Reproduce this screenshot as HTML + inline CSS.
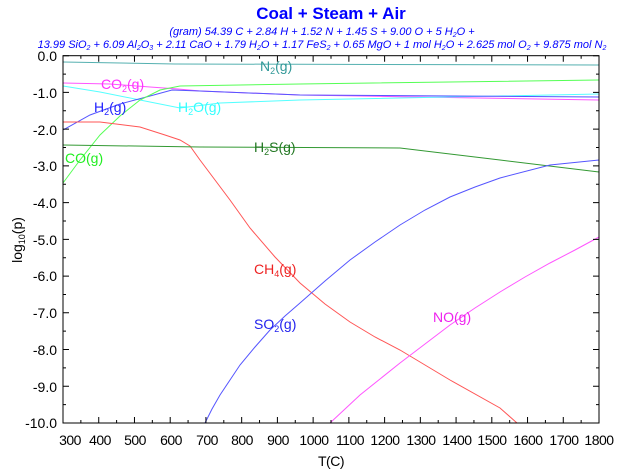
<!DOCTYPE html><html><head><meta charset="utf-8"><style>body{margin:0;background:#fff}svg{display:block;font-family:"Liberation Sans",sans-serif}</style></head><body>
<svg width="640" height="473" xmlns="http://www.w3.org/2000/svg">
<text x="331" y="19" font-size="17" font-weight="bold" fill="#0000ff" text-anchor="middle">Coal + Steam + Air</text>
<text x="322" y="35" font-size="11" font-style="italic" fill="#0000ff" text-anchor="middle">(gram) 54.39 C + 2.84 H + 1.52 N + 1.45 S + 9.00 O + 5 H<tspan font-size="7" dy="2">2</tspan><tspan dy="-2">O +</tspan></text>
<text x="322" y="48" font-size="11" font-style="italic" fill="#0000ff" text-anchor="middle">13.99 SiO<tspan font-size="7" dy="2">2</tspan><tspan dy="-2"> + 6.09 Al</tspan><tspan font-size="7" dy="2">2</tspan><tspan dy="-2">O</tspan><tspan font-size="7" dy="2">3</tspan><tspan dy="-2"> + 2.11 CaO + 1.79 H</tspan><tspan font-size="7" dy="2">2</tspan><tspan dy="-2">O + 1.17 FeS</tspan><tspan font-size="7" dy="2">2</tspan><tspan dy="-2"> + 0.65 MgO + 1 mol H</tspan><tspan font-size="7" dy="2">2</tspan><tspan dy="-2">O + 2.625 mol O</tspan><tspan font-size="7" dy="2">2</tspan><tspan dy="-2"> + 9.875 mol N</tspan><tspan font-size="7" dy="2">2</tspan></text>
<g fill="none" stroke-width="1">
<polyline stroke="#55b0b0" points="63,62 175,64 599,65"/>
<polyline stroke="#ff55ff" points="63,83 110,84 150,87 178,89 200,91 300,95 599,100"/>
<polyline stroke="#55ffff" points="63,86 100,92 140,100 180,108 220,103 300,100 599,94"/>
<polyline stroke="#5555ff" points="63,130 90,115 120,104 150,96 172,90 200,91 300,95 599,97"/>
<polyline stroke="#55ff55" points="63,183 80,160 100,135 120,116 140,100 160,90 180,86 300,84 599,80"/>
<polyline stroke="#ff5555" points="63,122 100,122 140,127 165,135 180,140 190,146 200,160 215,180 230,200 250,228 275,257 300,283 325,304 350,322 375,337 400,350 450,380 500,408 517,423"/>
<polyline stroke="#339933" points="63,145 200,147 400,148 500,160 599,172"/>
<polyline stroke="#5555ff" points="205,423 212,409 220,395 230,380 240,365 255,347 270,330 285,316 300,303 325,281 350,260 375,242 400,225 425,210 450,197 475,187 500,178 550,165 599,160"/>
<polyline stroke="#ff55ff" points="330,423 345,409 360,395 380,379 400,363 425,344 450,325 475,308 500,292 525,277 550,263 575,250 599,237"/>
</g>
<rect x="63" y="55.7" width="536" height="367.3" fill="none" stroke="#000" stroke-width="1"/>
<g stroke="#000" fill="none" stroke-width="1">
<path d="M63,55.7v6m17.867,-6v3m17.867,-3v6m17.867,-6v3m17.867,-3v6m17.867,-6v3m17.867,-3v6m17.867,-6v3m17.867,-3v6m17.867,-6v3m17.867,-3v6m17.867,-6v3m17.867,-3v6m17.867,-6v3m17.867,-3v6m17.867,-6v3m17.867,-3v6m17.867,-6v3m17.867,-3v6m17.867,-6v3m17.867,-3v6m17.867,-6v3m17.867,-3v6m17.867,-6v3m17.867,-3v6m17.867,-6v3m17.867,-3v6m17.867,-6v3m17.867,-3v6m17.867,-6v3m17.867,-3v6"/>
<path d="M63,423v-6m17.867,6v-3m17.867,3v-6m17.867,6v-3m17.867,3v-6m17.867,6v-3m17.867,3v-6m17.867,6v-3m17.867,3v-6m17.867,6v-3m17.867,3v-6m17.867,6v-3m17.867,3v-6m17.867,6v-3m17.867,3v-6m17.867,6v-3m17.867,3v-6m17.867,6v-3m17.867,3v-6m17.867,6v-3m17.867,3v-6m17.867,6v-3m17.867,3v-6m17.867,6v-3m17.867,3v-6m17.867,6v-3m17.867,3v-6m17.867,6v-3m17.867,3v-6m17.867,6v-3m17.867,3v-6"/>
<path d="M63,55.7h6m-6,18.365h3m-3,18.365h6m-6,18.365h3m-3,18.365h6m-6,18.365h3m-3,18.365h6m-6,18.365h3m-3,18.365h6m-6,18.365h3m-3,18.365h6m-6,18.365h3m-3,18.365h6m-6,18.365h3m-3,18.365h6m-6,18.365h3m-3,18.365h6m-6,18.365h3m-3,18.365h6m-6,18.365h3m-3,18.365h6"/>
<path d="M599,55.7h-6m6,18.365h-3m3,18.365h-6m6,18.365h-3m3,18.365h-6m6,18.365h-3m3,18.365h-6m6,18.365h-3m3,18.365h-6m6,18.365h-3m3,18.365h-6m6,18.365h-3m3,18.365h-6m6,18.365h-3m3,18.365h-6m6,18.365h-3m3,18.365h-6m6,18.365h-3m3,18.365h-6m6,18.365h-3m3,18.365h-6"/>
</g>
<g font-size="14" text-anchor="end" fill="#000">
<text x="57" y="61">0.0</text><text x="57" y="98">-1.0</text><text x="57" y="135">-2.0</text><text x="57" y="171">-3.0</text><text x="57" y="208">-4.0</text><text x="57" y="245">-5.0</text><text x="57" y="281">-6.0</text><text x="57" y="318">-7.0</text><text x="57" y="355">-8.0</text><text x="57" y="392">-9.0</text><text x="57" y="428">-10.0</text>
</g>
<g font-size="14" text-anchor="middle" fill="#000" letter-spacing="-0.5">
<text x="70" y="445">300</text><text x="100" y="445">400</text><text x="135" y="445">500</text><text x="171" y="445">600</text><text x="207" y="445">700</text><text x="242" y="445">800</text><text x="278" y="445">900</text><text x="314" y="445">1000</text><text x="350" y="445">1100</text><text x="385" y="445">1200</text><text x="421" y="445">1300</text><text x="457" y="445">1400</text><text x="492" y="445">1500</text><text x="528" y="445">1600</text><text x="564" y="445">1700</text><text x="599" y="445">1800</text>
<text x="331" y="466">T(C)</text>
</g>
<text transform="translate(22,240) rotate(-90)" font-size="14" text-anchor="middle">log<tspan font-size="9" dy="3">10</tspan><tspan dy="-3">(p)</tspan></text>
<g font-size="14">
<text x="260" y="71" fill="#339999">N<tspan font-size="9" dy="3">2</tspan><tspan dy="-3">(g)</tspan></text>
<text x="101" y="89" fill="#ff33ff">CO<tspan font-size="9" dy="3">2</tspan><tspan dy="-3">(g)</tspan></text>
<text x="94" y="112" fill="#2222ff">H<tspan font-size="9" dy="3">2</tspan><tspan dy="-3">(g)</tspan></text>
<text x="178" y="112" fill="#33ffff">H<tspan font-size="9" dy="3">2</tspan><tspan dy="-3">O(g)</tspan></text>
<text x="65" y="163" fill="#22ee22">CO(g)</text>
<text x="254" y="152" fill="#227722">H<tspan font-size="9" dy="3">2</tspan><tspan dy="-3">S(g)</tspan></text>
<text x="254" y="274" fill="#ee2222">CH<tspan font-size="9" dy="3">4</tspan><tspan dy="-3">(g)</tspan></text>
<text x="254" y="329" fill="#2222ee">SO<tspan font-size="9" dy="3">2</tspan><tspan dy="-3">(g)</tspan></text>
<text x="433" y="322" fill="#ee22ee">NO(g)</text>
</g>
</svg></body></html>
